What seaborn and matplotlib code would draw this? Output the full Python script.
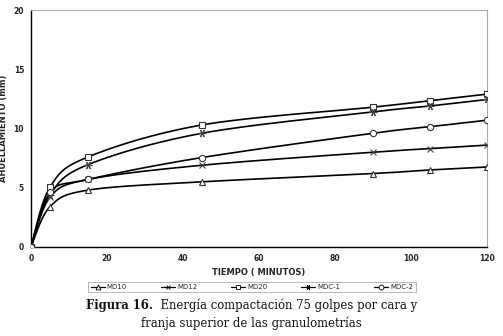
import numpy as np
import pandas as pd
import matplotlib
matplotlib.use("Agg")
import matplotlib.pyplot as plt
import seaborn as sns
from matplotlib.lines import Line2D

tiempo = [0, 5, 15, 45, 90, 105, 120]
md10 = [0, 3.4, 4.8, 5.5, 6.2, 6.5, 6.75]
md12 = [0, 4.2, 5.7, 6.9, 8.0, 8.3, 8.6]
md20 = [0, 5.05, 7.6, 10.3, 11.8, 12.35, 12.9]
mdc1 = [0, 4.4, 6.95, 9.6, 11.4, 11.9, 12.45]
mdc2 = [0, 4.6, 5.7, 7.55, 9.6, 10.15, 10.7]
series_names = ["MD10", "MD12", "MD20", "MDC-1", "MDC-2"]
series_vals = [md10, md12, md20, mdc1, mdc2]
markers = ["^", "x", "s", (6, 2, 30), "o"]
y_ticks = [0, 5, 10, 15, 20]
x_ticks = [0, 20, 40, 60, 80, 100, 120]


def smooth(xs, ys, n=30):
    """Bezier smoothing of a polyline (Excel-style smoothed line), drawing only."""
    P = np.column_stack([xs, ys]).astype(float)
    out = [P[0]]
    m = len(P)
    for i in range(m - 1):
        p0 = P[i - 1] if i > 0 else P[i]
        p1, p2 = P[i], P[i + 1]
        p3 = P[i + 2] if i + 2 < m else P[i + 1]
        c1 = p1 + (p2 - p0) / 6.0
        c2 = p2 - (p3 - p1) / 6.0
        t = np.linspace(0, 1, n)[1:, None]
        seg = ((1 - t) ** 3) * p1 + 3 * ((1 - t) ** 2) * t * c1 + 3 * (1 - t) * t ** 2 * c2 + t ** 3 * p2
        out.extend(seg)
    out = np.array(out)
    return out[:, 0], out[:, 1]


sns.set_theme(style="white")
plt.rcParams["font.family"] = ["DejaVu Sans"]

fig = plt.figure(figsize=(5.03, 3.36), dpi=100)
ax = fig.add_axes([31 / 503, 1 - 247 / 336, 456 / 503, 237 / 336])

for name, vals, mk in zip(series_names, series_vals, markers):
    sx, sy = smooth(tiempo, vals)
    dfl = pd.DataFrame({"t": sx, "v": sy})
    sns.lineplot(data=dfl, x="t", y="v", ax=ax, color="black", lw=1.2, sort=False,
                 estimator=None, zorder=2)
    dfp = pd.DataFrame({"t": tiempo, "v": vals})
    if mk == "x":
        ax.plot(dfp["t"], dfp["v"], ls="none", marker="x", color="#444444", ms=4.5, mew=0.8, zorder=3)
    elif isinstance(mk, tuple):
        ax.plot(dfp["t"], dfp["v"], ls="none", marker=mk, color="#444444", ms=5.5, mew=0.8, zorder=3)
    else:
        ax.plot(dfp["t"], dfp["v"], ls="none", marker=mk, mfc="white", mec="#333333", ms=4.5, mew=0.8, zorder=3)

ax.set_xlim(0, 120)
ax.set_ylim(0, 20)
ax.set_xticks(x_ticks)
ax.set_yticks(y_ticks)
ax.tick_params(axis="both", labelsize=5.5, length=2, pad=3)
for lbl in ax.get_xticklabels() + ax.get_yticklabels():
    lbl.set_fontweight("bold")
ax.set_xlabel("TIEMPO ( MINUTOS)", fontsize=6, fontweight="bold", labelpad=4)
ax.set_ylabel("AHUELLAMIENTO (mm)", fontsize=6, fontweight="bold", labelpad=4)
for side in ["top", "right"]:
    ax.spines[side].set_color("#aaaaaa")
    ax.spines[side].set_linewidth(0.8)
for side in ["left", "bottom"]:
    ax.spines[side].set_color("black")
    ax.spines[side].set_linewidth(1.0)

handles = []
for name, mk in zip(series_names, markers):
    if mk in ("x",) or isinstance(mk, tuple):
        h = Line2D([], [], color="black", lw=0.9, marker=mk, ms=3.5, mew=0.6)
    else:
        h = Line2D([], [], color="black", lw=0.9, marker=mk, mfc="white", mec="black", ms=3.5, mew=0.6)
    handles.append(h)
leg = fig.legend(handles, series_names, loc="center", bbox_to_anchor=(252 / 503, 1 - 287 / 336),
                 ncol=5, fontsize=5, frameon=True, fancybox=False, handlelength=2.0,
                 columnspacing=4.9, borderpad=0.35, handletextpad=0.3)
leg.get_frame().set_edgecolor("#999999")
leg.get_frame().set_linewidth(0.6)

# caption: bold "Figura 16." followed by regular text, centred as a whole
cap_fs = 8.4
fig.canvas.draw()
r = fig.canvas.get_renderer()
t_bold = fig.text(0, 1 - 305 / 336, "Figura 16.", ha="left", va="center", fontsize=cap_fs,
                  family="DejaVu Serif", fontweight="bold", color="#111111")
t_rest = fig.text(0, 1 - 305 / 336, "  Energía compactación 75 golpes por cara y", ha="left",
                  va="center", fontsize=cap_fs, family="DejaVu Serif", color="#111111")
wb = t_bold.get_window_extent(r).width
wr = t_rest.get_window_extent(r).width
W = fig.bbox.width
x0 = (W - wb - wr) / 2.0
t_bold.set_x(x0 / W)
t_rest.set_x((x0 + wb) / W)
fig.text(0.5, 1 - 323 / 336, "franja superior de las granulometrías",
         ha="center", va="center", fontsize=cap_fs, family="DejaVu Serif", color="#111111")

fig.savefig("out.png", dpi=100)
